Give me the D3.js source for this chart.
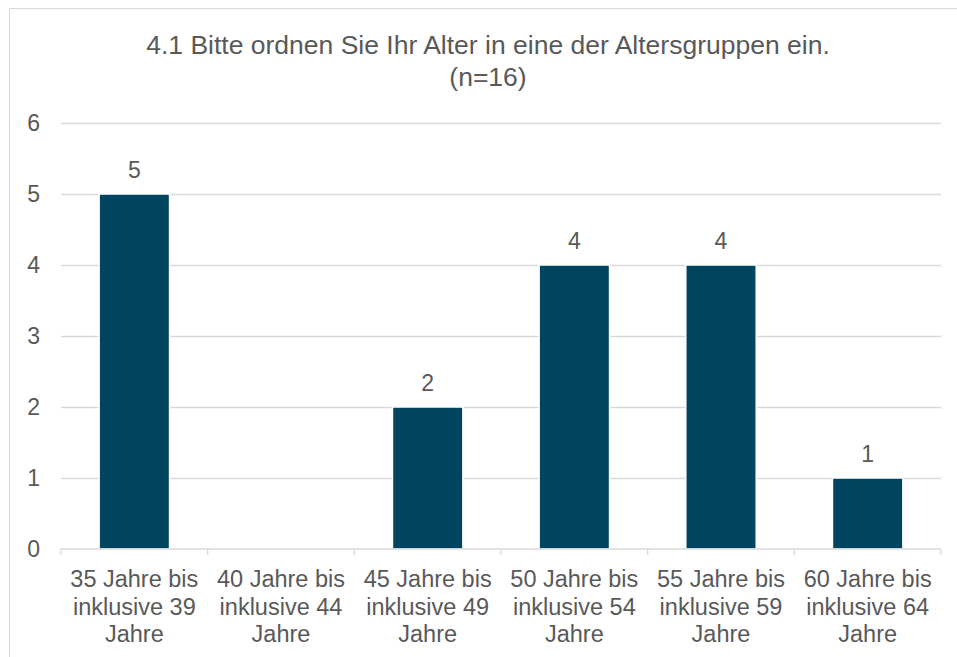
<!DOCTYPE html>
<html>
<head>
<meta charset="utf-8">
<script src="https://cdn.jsdelivr.net/npm/d3@7"></script>
<style>
  body { margin: 0; background: #fff; }
  svg text { font-family: "Liberation Sans", Arial, sans-serif; fill: #595959; }
</style>
</head>
<body>
<svg id="chart" width="957" height="657"></svg>
<script>
const categories = [
  ["35 Jahre bis", "inklusive 39", "Jahre"],
  ["40 Jahre bis", "inklusive 44", "Jahre"],
  ["45 Jahre bis", "inklusive 49", "Jahre"],
  ["50 Jahre bis", "inklusive 54", "Jahre"],
  ["55 Jahre bis", "inklusive 59", "Jahre"],
  ["60 Jahre bis", "inklusive 64", "Jahre"]
];
const values = [5, null, 2, 4, 4, 1];
const yTicks = [0, 1, 2, 3, 4, 5, 6];
const titleLines = ["4.1 Bitte ordnen Sie Ihr Alter in eine der Altersgruppen ein.", "(n=16)"];

const svg = d3.select("#chart");
const margin = {top: 123, left: 61, right: 16, bottom: 108};
const width = 957 - margin.left - margin.right;
const height = 657 - margin.top - margin.bottom;

// outer frame (cropped on right/bottom like the reference)
svg.append("rect")
  .attr("x", 9.5).attr("y", 8.5)
  .attr("width", 970).attr("height", 700)
  .attr("fill", "none").attr("stroke", "#d9d9d9");

const title = svg.append("text")
  .attr("x", 488).attr("y", 54)
  .attr("text-anchor", "middle")
  .style("font-size", "26.5px");
titleLines.forEach((t, i) => {
  title.append("tspan").attr("x", 488).attr("dy", i ? 32 : 0).text(t);
});

const g = svg.append("g").attr("transform", `translate(${margin.left},${margin.top})`);

const x = d3.scaleBand().domain(d3.range(categories.length)).range([0, width]).paddingInner(0.52).paddingOuter(0.26);
const xOuter = d3.scaleBand().domain(d3.range(categories.length)).range([0, width]);
const y = d3.scaleLinear().domain([0, 6]).range([height, 0]);

// gridlines
g.append("g")
  .call(d3.axisLeft(y).tickValues(yTicks.slice(1)).tickSize(-width).tickFormat(""))
  .call(s => s.select(".domain").remove())
  .call(s => s.selectAll("line").attr("stroke", "#d9d9d9").attr("stroke-width", 1.3));

// y labels
g.append("g")
  .call(d3.axisLeft(y).tickValues(yTicks).tickSize(0).tickPadding(21).tickFormat(d3.format("d")))
  .call(s => s.select(".domain").remove())
  .call(s => s.selectAll("text").style("font-size", "23px").style("fill", "#595959"));

// bars
g.selectAll(".bar")
  .data(values.map((v, i) => ({v, i})).filter(d => d.v != null))
  .join("rect")
  .attr("class", "bar")
  .attr("x", d => x(d.i))
  .attr("width", x.bandwidth())
  .attr("y", d => y(d.v))
  .attr("height", d => y(0) - y(d.v))
  .attr("fill", "#00445f")
  .attr("stroke", "#fff")
  .attr("stroke-width", 1.5);

// value labels
g.selectAll(".lbl")
  .data(values.map((v, i) => ({v, i})).filter(d => d.v != null))
  .join("text")
  .attr("x", d => x(d.i) + x.bandwidth() / 2)
  .attr("y", d => y(d.v) - 16)
  .attr("text-anchor", "middle")
  .style("font-size", "23px")
  .text(d => d.v);

// x axis
const xAxis = g.append("g").attr("transform", `translate(0,${height})`);
xAxis.append("line").attr("x1", 0).attr("x2", width).attr("stroke", "#d9d9d9").attr("stroke-width", 1.3);
xAxis.selectAll(".tk")
  .data(d3.range(categories.length + 1))
  .join("line")
  .attr("x1", i => i < categories.length ? xOuter(i) : width)
  .attr("x2", i => i < categories.length ? xOuter(i) : width)
  .attr("y1", 0).attr("y2", 6)
  .attr("stroke", "#d9d9d9").attr("stroke-width", 1.3);

xAxis.selectAll(".cat")
  .data(categories)
  .join("text")
  .attr("text-anchor", "middle")
  .style("font-size", "23.5px")
  .each(function(lines, i) {
    const t = d3.select(this);
    lines.forEach((l, j) => {
      t.append("tspan")
        .attr("x", xOuter(i) + xOuter.bandwidth() / 2)
        .attr("y", 38 + j * 27.5)
        .text(l);
    });
  });
</script>
</body>
</html>
